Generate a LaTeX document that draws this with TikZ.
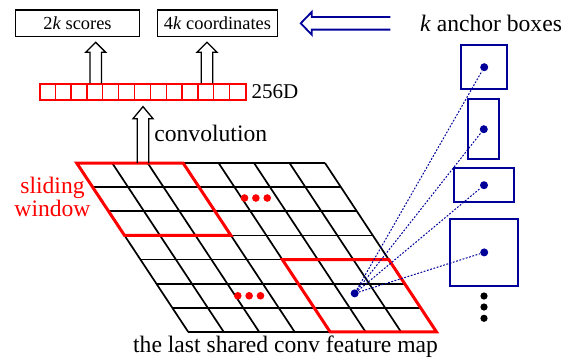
\documentclass[tikz,border=0pt]{standalone}
\usepackage{fontspec}
\setmainfont{Liberation Serif}
\usetikzlibrary{calc,positioning}
\definecolor{anchorblue}{RGB}{0,0,153}

\begin{document}
\begin{tikzpicture}[x=0.5pt,y=-0.5pt,
  gridline/.style={line width=0.85pt},
  window/.style={red,line width=1.5pt},
  outbox/.style={draw,line width=0.65pt,inner sep=0pt,minimum height=13.35pt,font=\fontsize{9.2}{11}\selectfont},
  anchorbox/.style={draw=anchorblue,line width=0.9pt,inner sep=0pt},
  hollow/.style args={#1/#2/#3}{line width=0.65pt,to path={
    ($(\tikztotarget)!#1!(\tikztostart)$) coordinate (hb)
    ($(\tikztostart)!#2!90:(\tikztotarget)$) -- ($(hb)!#2!90:(\tikztotarget)$)
    -- ($(hb)!#3!90:(\tikztotarget)$) -- (\tikztotarget)
    -- ($(hb)!#3!-90:(\tikztotarget)$) -- ($(hb)!#2!-90:(\tikztotarget)$)
    -- ($(\tikztostart)!#2!-90:(\tikztotarget)$)}},
  bigtext/.style={inner sep=0pt,font=\fontsize{11.8}{11.5}\selectfont},
  ptdot/.style={circle,fill,inner sep=0pt,minimum size=4pt},
  anchorlink/.style={anchorblue,line width=0.5pt,dash pattern=on 0.9pt off 0.8pt}]

  \useasboundingbox (0,0) rectangle (583,360);

  % Output layers on the top
  \node[outbox,minimum width=61.8pt] (scores) at (77.5,23.3) {2\textit{k} scores};
  \node[outbox,minimum width=60.2pt] (coords) at (217.5,23.3) {4\textit{k} coordinates};

  % Intermediate layer
  \node[draw=red,line width=0.65pt,inner sep=0pt,minimum width=103pt,minimum height=8pt] (bar) at (143,92) {};
  \foreach \i in {1,...,12}
    \draw[red,line width=0.65pt] ([xshift=\i*7.925pt]bar.north west) -- ([xshift=\i*7.925pt]bar.south west);
  \node[right=2.3pt of bar,inner sep=0pt,font=\fontsize{10.5}{12}\selectfont] (dimlabel) {256D};

  % Feature map grid
  \coordinate (gridorigin) at (76.7,163);
  \begin{scope}[shift={(gridorigin)},x={(17.735pt,0pt)},y={(7.97pt,-12.07pt)}]
    \foreach \i in {0,...,7} {
      \draw[gridline] (0,\i) -- (7,\i);
      \draw[gridline] (\i,0) -- (\i,7);
    }
    \draw[window] (0,0) -- (3,0) -- (3,3) -- (0,3) -- cycle;
    \draw[window] (4,4) -- (7,4) -- (7,7) -- (4,7) -- cycle;
    \foreach \d in {-0.32,0,0.32} {
      \fill[red] (4.4+\d,1.45) circle (1.9pt);
      \fill[red] (2.39+\d,5.5) circle (1.9pt);
    }
    \node[ptdot,anchorblue] (center) at (5.41,5.4) {};
    \coordinate (gtop) at (1.87,0);
  \end{scope}

  % Anchor boxes
  \node[anchorbox,minimum width=23.15pt,minimum height=22.15pt] (box1) at (484.2,67.2) {};
  \node[anchorbox,minimum width=15.5pt,minimum height=29.85pt] (box2) at (483.8,129.2) {};
  \node[anchorbox,minimum width=30pt,minimum height=16.85pt] (box3) at (484,185.2) {};
  \node[anchorbox,minimum width=34.15pt,minimum height=33.35pt] (box4) at (484.2,252.4) {};
  \foreach \b in {1,...,4} {
    \node[ptdot,anchorblue] (dot\b) at (box\b.center) {};
    \draw[anchorlink] (center) -- (dot\b);
  }
  \foreach \y in {296,307,318.3}
    \fill (484,\y) circle (1.8pt);

  % Arrows
  \coordinate (convtip) at ([yshift=-3pt]bar.south);
  \coordinate (scorestail) at ([xshift=-23.65pt]bar.north);
  \coordinate (scorestip) at ([xshift=9.1pt,yshift=-2.5pt]scores.south);
  \coordinate (coordstail) at ([xshift=32pt]bar.north);
  \coordinate (coordstip) at ([xshift=-5.25pt,yshift=-2.5pt]coords.south);
  \draw[hollow=6pt/2.9pt/5pt] (gtop) to (convtip);
  \draw[hollow=5pt/2.9pt/5pt] (scorestail) to (scorestip);
  \draw[hollow=5pt/2.9pt/5pt] (coordstail) to (coordstip);

  % Labels
  \node[bigtext] (anchorlabel) at (491,23.3) {\textit{k} anchor boxes};
  \coordinate (kltail) at ([xshift=-14.65pt]anchorlabel.west);
  \coordinate (kltip) at ([xshift=11.2pt]coords.east);
  \draw[hollow=5.5pt/3.15pt/5.7pt,anchorblue,line width=0.9pt] (kltail) to (kltip);
  \node[bigtext,anchor=west] (convlabel) at (154,133) {convolution};
  \node[bigtext,red,align=center] (slidelabel) at (52.5,196.5) {sliding\\window};
  \node[bigtext] (maplabel) at (285.5,347) {the last shared conv feature map};

\end{tikzpicture}
\end{document}
